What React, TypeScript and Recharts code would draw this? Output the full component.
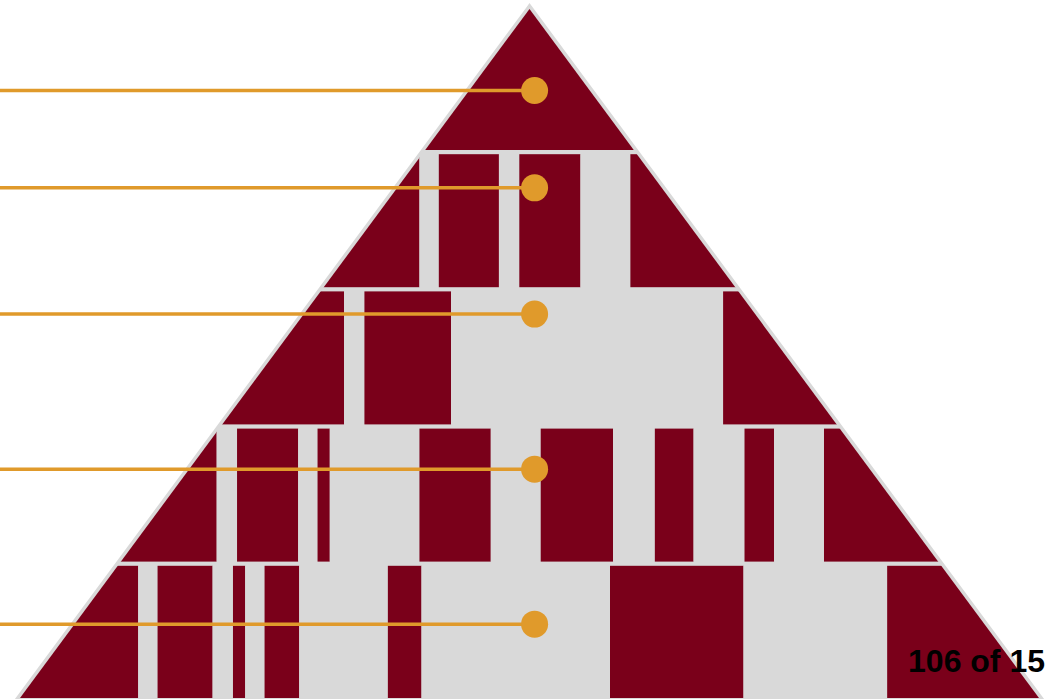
import { BarChart, Bar, XAxis, YAxis, ScatterChart, Scatter, ReferenceLine } from "recharts";

const W = 1045;
const H = 701;
const MARGIN = { top: 15, right: 6, bottom: 0, left: 20 };

const RED = "#7a001a";
const GRAY = "#d9d9d9";
const ORANGE = "#e09a2b";

// pyramid levels, top to bottom
const levels = ["L1", "L2", "L3", "L4", "L5"];

// filled spans on each level, in % of the base width
const level1 = [[0, 100]];
const level2 = [[0, 39.2], [41.1, 47.0], [49.0, 55.0], [59.9, 100]];
const level3 = [[0, 31.8], [33.8, 42.3], [69.0, 100]];
const level4 = [
  [0, 19.3], [21.3, 27.3], [29.2, 30.4], [39.2, 46.2],
  [51.1, 58.2], [62.3, 66.1], [71.1, 74.0], [78.9, 100],
];
const level5 = [
  [0, 11.6], [13.5, 18.9], [20.9, 22.1], [24.0, 27.4],
  [36.1, 39.4], [57.9, 71.0], [85.1, 100],
];

// orange markers (height on a 0..5 level scale)
const markerLevels = [4.45, 3.74, 2.82, 1.69, 0.56];
const markerX = 50.5;
const lineStartX = -2;

const pageLabel = "106 of 15";

const spans = [level1, level2, level3, level4, level5];
const segCount = Math.max(...spans.map((s) => s.length)) * 2;
const segKeys = Array.from({ length: segCount }, (_, i) => `s${i}`);

// stacked table: even keys = gap, odd keys = filled block
const rows = levels.map((name, i) => {
  const row: { [key: string]: string | number } = { name };
  segKeys.forEach((k) => (row[k] = 0));
  let pos = 0;
  spans[i].forEach(([a, b], k) => {
    row[`s${2 * k}`] = +(a - pos).toFixed(2);
    row[`s${2 * k + 1}`] = +(b - a).toFixed(2);
    pos = b;
  });
  return row;
});

const markers = markerLevels.map((y) => ({ x: markerX, y }));

// triangle frame
const left = MARGIN.left;
const right = W - MARGIN.right;
const apexX = (left + right) / 2;
const apexY = 9;
const baseY = 698;
const triPoints = `${apexX},${apexY} ${left},${baseY} ${right},${baseY}`;

const Segment = (props: any) => {
  const { x, y, width, height, index, fill } = props;
  if (!width || width <= 0) return null;
  const top = index === 0 ? 0 : y;
  return (
    <rect
      x={x}
      y={top}
      width={width}
      height={y + height - top}
      fill={fill}
      clipPath="url(#tri)"
    />
  );
};

const Marker = (props: any) => (
  <circle cx={props.cx} cy={props.cy} r={13.5} fill={ORANGE} />
);

export default function App() {
  return (
    <div style={{ position: "relative", width: W, height: 699, overflow: "hidden" }}>
      <style>{"body{margin:0}"}</style>
      <svg width={W} height={H} style={{ position: "absolute", left: 0, top: 0 }}>
        <defs>
          <clipPath id="tri">
            <polygon points={triPoints} />
          </clipPath>
        </defs>
        <polygon
          points={triPoints}
          fill={GRAY}
          stroke={GRAY}
          strokeWidth={7}
          strokeLinejoin="miter"
        />
      </svg>

      <div style={{ position: "absolute", left: 0, top: 0 }}>
        <BarChart
          width={W}
          height={H}
          data={rows}
          layout="vertical"
          margin={MARGIN}
          barCategoryGap={2}
        >
          <XAxis type="number" domain={[0, 100]} hide />
          <YAxis type="category" dataKey="name" hide />
          {segKeys.map((k, i) => (
            <Bar
              key={k}
              dataKey={k}
              stackId="p"
              fill={i % 2 === 0 ? GRAY : RED}
              shape={Segment}
              isAnimationActive={false}
            />
          ))}
        </BarChart>
      </div>

      <div style={{ position: "absolute", left: 0, top: 0 }}>
        <ScatterChart width={W} height={H} margin={MARGIN}>
          <XAxis type="number" dataKey="x" domain={[0, 100]} hide />
          <YAxis type="number" dataKey="y" domain={[0, 5]} hide />
          {markers.map((m, i) => (
            <ReferenceLine
              key={i}
              segment={[
                { x: lineStartX, y: m.y },
                { x: m.x, y: m.y },
              ]}
              stroke={ORANGE}
              strokeWidth={3.5}
              ifOverflow="visible"
            />
          ))}
          <Scatter data={markers} shape={Marker} isAnimationActive={false} />
        </ScatterChart>
      </div>

      <div
        style={{
          position: "absolute",
          right: 0,
          top: 645,
          fontFamily: "'Liberation Sans', Arial, sans-serif",
          fontWeight: 700,
          fontSize: 32,
          lineHeight: "32px",
          color: "#000",
          whiteSpace: "nowrap",
        }}
      >
        {pageLabel}
      </div>
    </div>
  );
}
